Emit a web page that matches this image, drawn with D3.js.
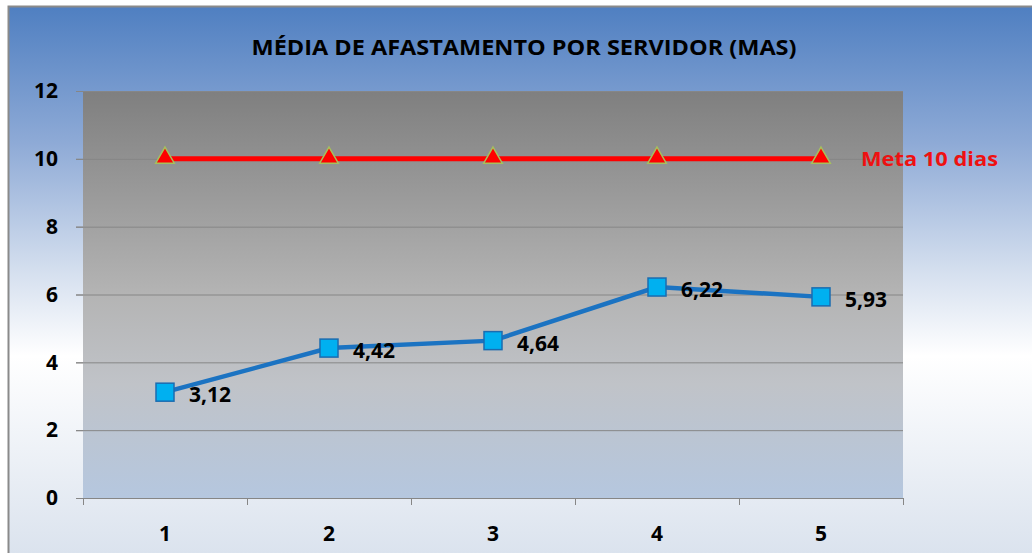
<!DOCTYPE html>
<html>
<head>
<meta charset="utf-8">
<script src="https://cdn.jsdelivr.net/npm/d3@7"></script>
<style>
  body { margin: 0; background: #fff; }
  text { font-family: "Open Sans", Lato, sans-serif; font-weight: bold; }
</style>
</head>
<body>
<div id="chart"></div>
<script>
// data
var categories = ["1", "2", "3", "4", "5"];
var mediaValues = [3.12, 4.42, 4.64, 6.22, 5.93];
var metaValues = [10, 10, 10, 10, 10];
var yTicks = [0, 2, 4, 6, 8, 10, 12];
var titleText = "MÉDIA DE AFASTAMENTO POR SERVIDOR (MAS)";
var metaLabel = "Meta 10 dias";

var W = 1032, H = 553;
var margin = {top: 91, right: 129, bottom: 55, left: 83},
    width = W - margin.left - margin.right,
    height = H - margin.top - margin.bottom;

var svg = d3.select("#chart")
  .append("svg")
    .attr("width", W)
    .attr("height", H);

var defs = svg.append("defs");

// outer background gradient
var bg = defs.append("linearGradient").attr("id", "bgGrad")
  .attr("x1", 0).attr("y1", 0).attr("x2", 0).attr("y2", 1);
bg.append("stop").attr("offset", "0%").attr("stop-color", "#4f7fc1");
bg.append("stop").attr("offset", "25%").attr("stop-color", "#8eaad6");
bg.append("stop").attr("offset", "48%").attr("stop-color", "#d3deee");
bg.append("stop").attr("offset", "64%").attr("stop-color", "#ffffff");
bg.append("stop").attr("offset", "100%").attr("stop-color", "#dbe3ee");

// plot area gradient
var pg = defs.append("linearGradient").attr("id", "plotGrad")
  .attr("x1", 0).attr("y1", 0).attr("x2", 0).attr("y2", 1);
pg.append("stop").attr("offset", "0%").attr("stop-color", "#7f7f7f");
pg.append("stop").attr("offset", "50%").attr("stop-color", "#b4b4b4");
pg.append("stop").attr("offset", "72%").attr("stop-color", "#c0c3c8");
pg.append("stop").attr("offset", "100%").attr("stop-color", "#b5c7df");

svg.append("rect")
  .attr("x", 8).attr("y", 6)
  .attr("width", W - 8).attr("height", H - 6)
  .attr("fill", "url(#bgGrad)");
svg.append("path")
  .attr("d", "M8.5," + H + "V6.5H" + W)
  .attr("fill", "none")
  .attr("stroke", "#8a8a8a")
  .attr("stroke-width", 2);

var g = svg.append("g")
  .attr("transform", "translate(" + margin.left + "," + margin.top + ")");

g.append("rect")
  .attr("width", width).attr("height", height)
  .attr("fill", "url(#plotGrad)");

var x = d3.scaleBand()
  .domain(categories)
  .range([0, width]);

var y = d3.scaleLinear()
  .domain([0, 12])
  .range([height, 0]);

// gridlines
g.append("g")
  .selectAll("line")
  .data(yTicks.filter(function(d) { return d > 0; }))
  .enter()
  .append("line")
    .attr("x1", -7).attr("x2", width)
    .attr("y1", function(d) { return y(d) + 0.5; })
    .attr("y2", function(d) { return y(d) + 0.5; })
    .attr("stroke", "#868686")
    .attr("stroke-width", 1);

// y axis
var yAxis = g.append("g")
  .call(d3.axisLeft(y).tickValues(yTicks).tickSize(7).tickPadding(18));
yAxis.select(".domain").remove();
yAxis.selectAll("line").attr("stroke", "#868686");
yAxis.selectAll("text")
  .attr("fill", "#000")
  .style("font-size", "21px");

// x axis (ticks on category boundaries)
var xAxis = g.append("g")
  .attr("transform", "translate(0," + height + ")");
xAxis.append("line")
  .attr("x1", -7).attr("x2", width)
  .attr("y1", 0.5).attr("y2", 0.5)
  .attr("stroke", "#868686");
xAxis.selectAll(".bound")
  .data(d3.range(categories.length + 1))
  .enter()
  .append("line")
    .attr("x1", function(i) { return i * x.bandwidth() + 0.5; })
    .attr("x2", function(i) { return i * x.bandwidth() + 0.5; })
    .attr("y1", 0).attr("y2", 7)
    .attr("stroke", "#868686");
xAxis.selectAll(".xlab")
  .data(categories)
  .enter()
  .append("text")
    .attr("x", function(d) { return x(d) + x.bandwidth() / 2; })
    .attr("y", 43)
    .attr("text-anchor", "middle")
    .style("font-size", "21px")
    .text(function(d) { return d; });

var cx = function(i) { return x(categories[i]) + x.bandwidth() / 2; };

// meta line
var metaLine = d3.line()
  .x(function(d, i) { return cx(i); })
  .y(function(d) { return y(d); });
g.append("path")
  .datum(metaValues)
  .attr("d", metaLine)
  .attr("fill", "none")
  .attr("stroke", "#ff0000")
  .attr("stroke-width", 5);
g.selectAll(".tri")
  .data(metaValues)
  .enter()
  .append("path")
    .attr("transform", function(d, i) { return "translate(" + cx(i) + "," + (y(d) - 1) + ")"; })
    .attr("d", d3.symbol().type(d3.symbolTriangle).size(150))
    .attr("fill", "#ff0000")
    .attr("stroke", "#a6c15c")
    .attr("stroke-width", 1.5);
g.append("text")
  .attr("x", cx(4) + 40)
  .attr("y", y(10) + 7)
  .attr("fill", "#ee1111")
  .style("font-size", "20px")
  .attr("textLength", 137)
  .attr("lengthAdjust", "spacingAndGlyphs")
  .text(metaLabel);

// media line
var mediaLine = d3.line()
  .x(function(d, i) { return cx(i); })
  .y(function(d) { return y(d); });
g.append("path")
  .datum(mediaValues)
  .attr("d", mediaLine)
  .attr("fill", "none")
  .attr("stroke", "#1b73c2")
  .attr("stroke-width", 4.5);
g.selectAll(".sq")
  .data(mediaValues)
  .enter()
  .append("rect")
    .attr("x", function(d, i) { return cx(i) - 9; })
    .attr("y", function(d) { return y(d) - 9; })
    .attr("width", 18).attr("height", 18)
    .attr("fill", "#00b0f0")
    .attr("stroke", "#1b6cb0")
    .attr("stroke-width", 1.5);
g.selectAll(".lab")
  .data(mediaValues)
  .enter()
  .append("text")
    .attr("x", function(d, i) { return cx(i) + 24; })
    .attr("y", function(d) { return y(d) + 10; })
    .attr("fill", "#000")
    .style("font-size", "21px")
    .text(function(d) { return d.toFixed(2).replace(".", ","); });

// title
svg.append("text")
  .attr("x", 524)
  .attr("y", 55)
  .attr("text-anchor", "middle")
  .attr("fill", "#000")
  .style("font-size", "21px")
  .attr("textLength", 545)
  .attr("lengthAdjust", "spacingAndGlyphs")
  .text(titleText);
</script>
</body>
</html>
